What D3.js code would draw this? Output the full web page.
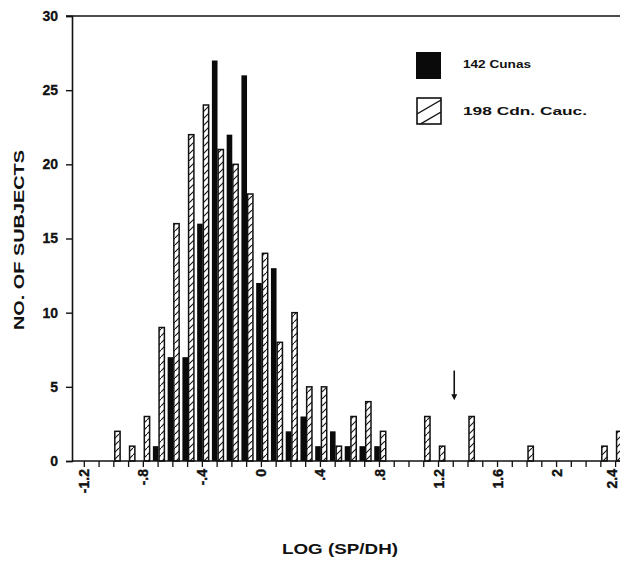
<!DOCTYPE html>
<html>
<head>
<meta charset="utf-8">
<script src="https://cdn.jsdelivr.net/npm/d3@7/dist/d3.min.js"></script>
<style>
  html, body { margin: 0; padding: 0; background: #fff; }
  svg { display: block; }
  text { font-family: "Liberation Sans", Arial, Helvetica, sans-serif; fill: #111; }
</style>
</head>
<body>
<svg id="chart" width="620" height="567"></svg>
<script>
// ---- data ----
const binValues = [-1.0,-0.9,-0.8,-0.7,-0.6,-0.5,-0.4,-0.3,-0.2,-0.1,0.0,0.1,0.2,0.3,0.4,0.5,0.6,0.7,0.8,1.1,1.2,1.4,1.8,2.3,2.4];
const cunas     = [0,   0,   0,   1,   7,   7,   16,  27,  22,  26,  12, 13, 2,  3,  1,  2,  1,  1,  1,  0,  0,  0,  0,  0,  0];
const cdnCauc   = [2,   1,   3,   9,   16,  22,  24,  21,  20,  18,  14, 8,  10, 5,  5,  1,  3,  4,  2,  3,  1,  3,  1,  1,  2];
const seriesNames = ["142 Cunas", "198 Cdn. Cauc."];
const xTickValues = [-1.2,-0.8,-0.4,0,0.4,0.8,1.2,1.6,2,2.4];
const xTickLabels = ["-1.2","-.8","-.4","0",".4",".8","1.2","1.6","2","2.4"];
const yTickValues = [0,5,10,15,20,25,30];
const yTickLabels = ["0","5","10","15","20","25","30"];
const arrowAt = 1.31;          // marker arrow position (x value)
const arrowFrom = 6.1, arrowTo = 4.1; // arrow extent in counts

// ---- layout ----
const svg = d3.select("#chart");
const x = d3.scaleLinear().domain([-1.28, 2.44]).range([72, 621]);
const y = d3.scaleLinear().domain([0, 30]).range([461, 16]);
const bw = x(0.1) - x(0);

const defs = svg.append("defs");
defs.append("pattern").attr("id","hatch").attr("patternUnits","userSpaceOnUse")
  .attr("width",7).attr("height",7)
  .call(p => {
    p.append("rect").attr("width",7).attr("height",7).attr("fill","#fff");
    p.append("path").attr("d","M-1,8 L8,-1").attr("stroke","#111").attr("stroke-width",1.1);
  });

const data = binValues.map((v,i) => ({v, a: cunas[i], b: cdnCauc[i]}));

// bars
const g = svg.append("g");
g.selectAll("rect.cuna").data(data.filter(d => d.a > 0)).join("rect")
  .attr("class","cuna")
  .attr("x", d => x(d.v) - 0.32*bw)
  .attr("width", 0.38*bw)
  .attr("y", d => y(d.a))
  .attr("height", d => y(0) - y(d.a))
  .attr("fill","#0a0a0a");
g.selectAll("rect.cauc").data(data.filter(d => d.b > 0)).join("rect")
  .attr("class","cauc")
  .attr("x", d => x(d.v) + 0.1*bw)
  .attr("width", 0.36*bw)
  .attr("y", d => y(d.b))
  .attr("height", d => y(0) - y(d.b))
  .attr("fill","url(#hatch)")
  .attr("stroke","#111").attr("stroke-width",1.5);

// x axis minor ticks
const minor = d3.range(-12, 25).map(i => i/10);
const xAxis = svg.append("g").attr("transform",`translate(0,${y(0)})`)
  .call(d3.axisBottom(x).tickValues(minor).tickSize(6).tickFormat(""));
xAxis.select(".domain").remove();
xAxis.selectAll(".tick line").attr("stroke","#111").attr("stroke-width",1.3);
svg.append("line").attr("x1",72).attr("x2",620).attr("y1",y(0)).attr("y2",y(0))
  .attr("stroke","#111").attr("stroke-width",1.6);

// x tick labels (rotated)
const xLab = svg.append("g").attr("transform",`translate(0,${y(0)})`)
  .call(d3.axisBottom(x).tickValues(xTickValues).tickSize(0)
    .tickFormat((d,i) => xTickLabels[i]));
xLab.select(".domain").remove();
xLab.selectAll(".tick text")
  .attr("transform","rotate(-90)")
  .attr("x",-8).attr("y",0)
  .attr("dy",(d,i) => i === xTickValues.length - 1 ? "0.1em" : "0.36em")
  .attr("text-anchor","end")
  .style("font-size","14px").style("font-weight","bold")
  .style("font-family",'"Liberation Sans", Arial, sans-serif')
  .attr("fill","#111").attr("stroke","#111").attr("stroke-width",0.4);

// y axis
const yAxis = svg.append("g").attr("transform","translate(72,0)")
  .call(d3.axisLeft(y).tickValues(yTickValues).tickSize(6).tickPadding(8)
    .tickFormat((d,i) => yTickLabels[i]));
yAxis.select(".domain").attr("stroke","#111").attr("stroke-width",1.6);
yAxis.selectAll(".tick line").attr("stroke","#111").attr("stroke-width",1.4);
yAxis.selectAll(".tick text")
  .style("font-size","14px").style("font-weight","bold")
  .style("font-family",'"Liberation Sans", Arial, sans-serif')
  .attr("fill","#111").attr("stroke","#111").attr("stroke-width",0.3);

// top frame line
svg.append("line").attr("x1",66).attr("x2",620).attr("y1",y(30)).attr("y2",y(30))
  .attr("stroke","#111").attr("stroke-width",1.6);

// arrow
const ax = x(arrowAt);
svg.append("line").attr("x1",ax).attr("x2",ax).attr("y1",y(arrowFrom)).attr("y2",y(arrowTo)-5)
  .attr("stroke","#111").attr("stroke-width",1.6);
svg.append("path")
  .attr("d",`M${ax-3},${y(arrowTo)-6} L${ax+3},${y(arrowTo)-6} L${ax},${y(arrowTo)} Z`)
  .attr("fill","#111");

// legend
const leg = svg.append("g");
leg.append("rect").attr("x",416).attr("y",52).attr("width",25).attr("height",27).attr("fill","#0a0a0a");
leg.append("defs").append("clipPath").attr("id","legclip").append("rect")
  .attr("x",417).attr("y",98).attr("width",24).attr("height",26);
leg.append("rect").attr("x",417).attr("y",98).attr("width",24).attr("height",26)
  .attr("fill","#fff").attr("stroke","#111").attr("stroke-width",1.6);
leg.append("g").attr("clip-path","url(#legclip)").selectAll("line").data([0,1]).join("line")
  .attr("x1",417).attr("x2",441)
  .attr("y1",(d) => 114 + d*12).attr("y2",(d) => 100 + d*12)
  .attr("stroke","#111").attr("stroke-width",1.4);
leg.append("text").attr("x",463).attr("y",68).text(seriesNames[0])
  .style("font-size","11.5px").style("font-weight","bold")
  .attr("textLength",68).attr("lengthAdjust","spacingAndGlyphs");
leg.append("text").attr("x",463).attr("y",115).text(seriesNames[1])
  .style("font-size","11.5px").style("font-weight","bold")
  .attr("textLength",124).attr("lengthAdjust","spacingAndGlyphs");

// axis titles
svg.append("text").attr("transform","translate(24,240) rotate(-90)")
  .attr("text-anchor","middle").text("NO. OF SUBJECTS")
  .style("font-size","15px").style("font-weight","bold")
  .attr("textLength",180).attr("lengthAdjust","spacingAndGlyphs");
svg.append("text").attr("x",340).attr("y",554).attr("text-anchor","middle")
  .text("LOG (SP/DH)")
  .style("font-size","15px").style("font-weight","bold")
  .attr("textLength",116).attr("lengthAdjust","spacingAndGlyphs");
</script>
</body>
</html>
